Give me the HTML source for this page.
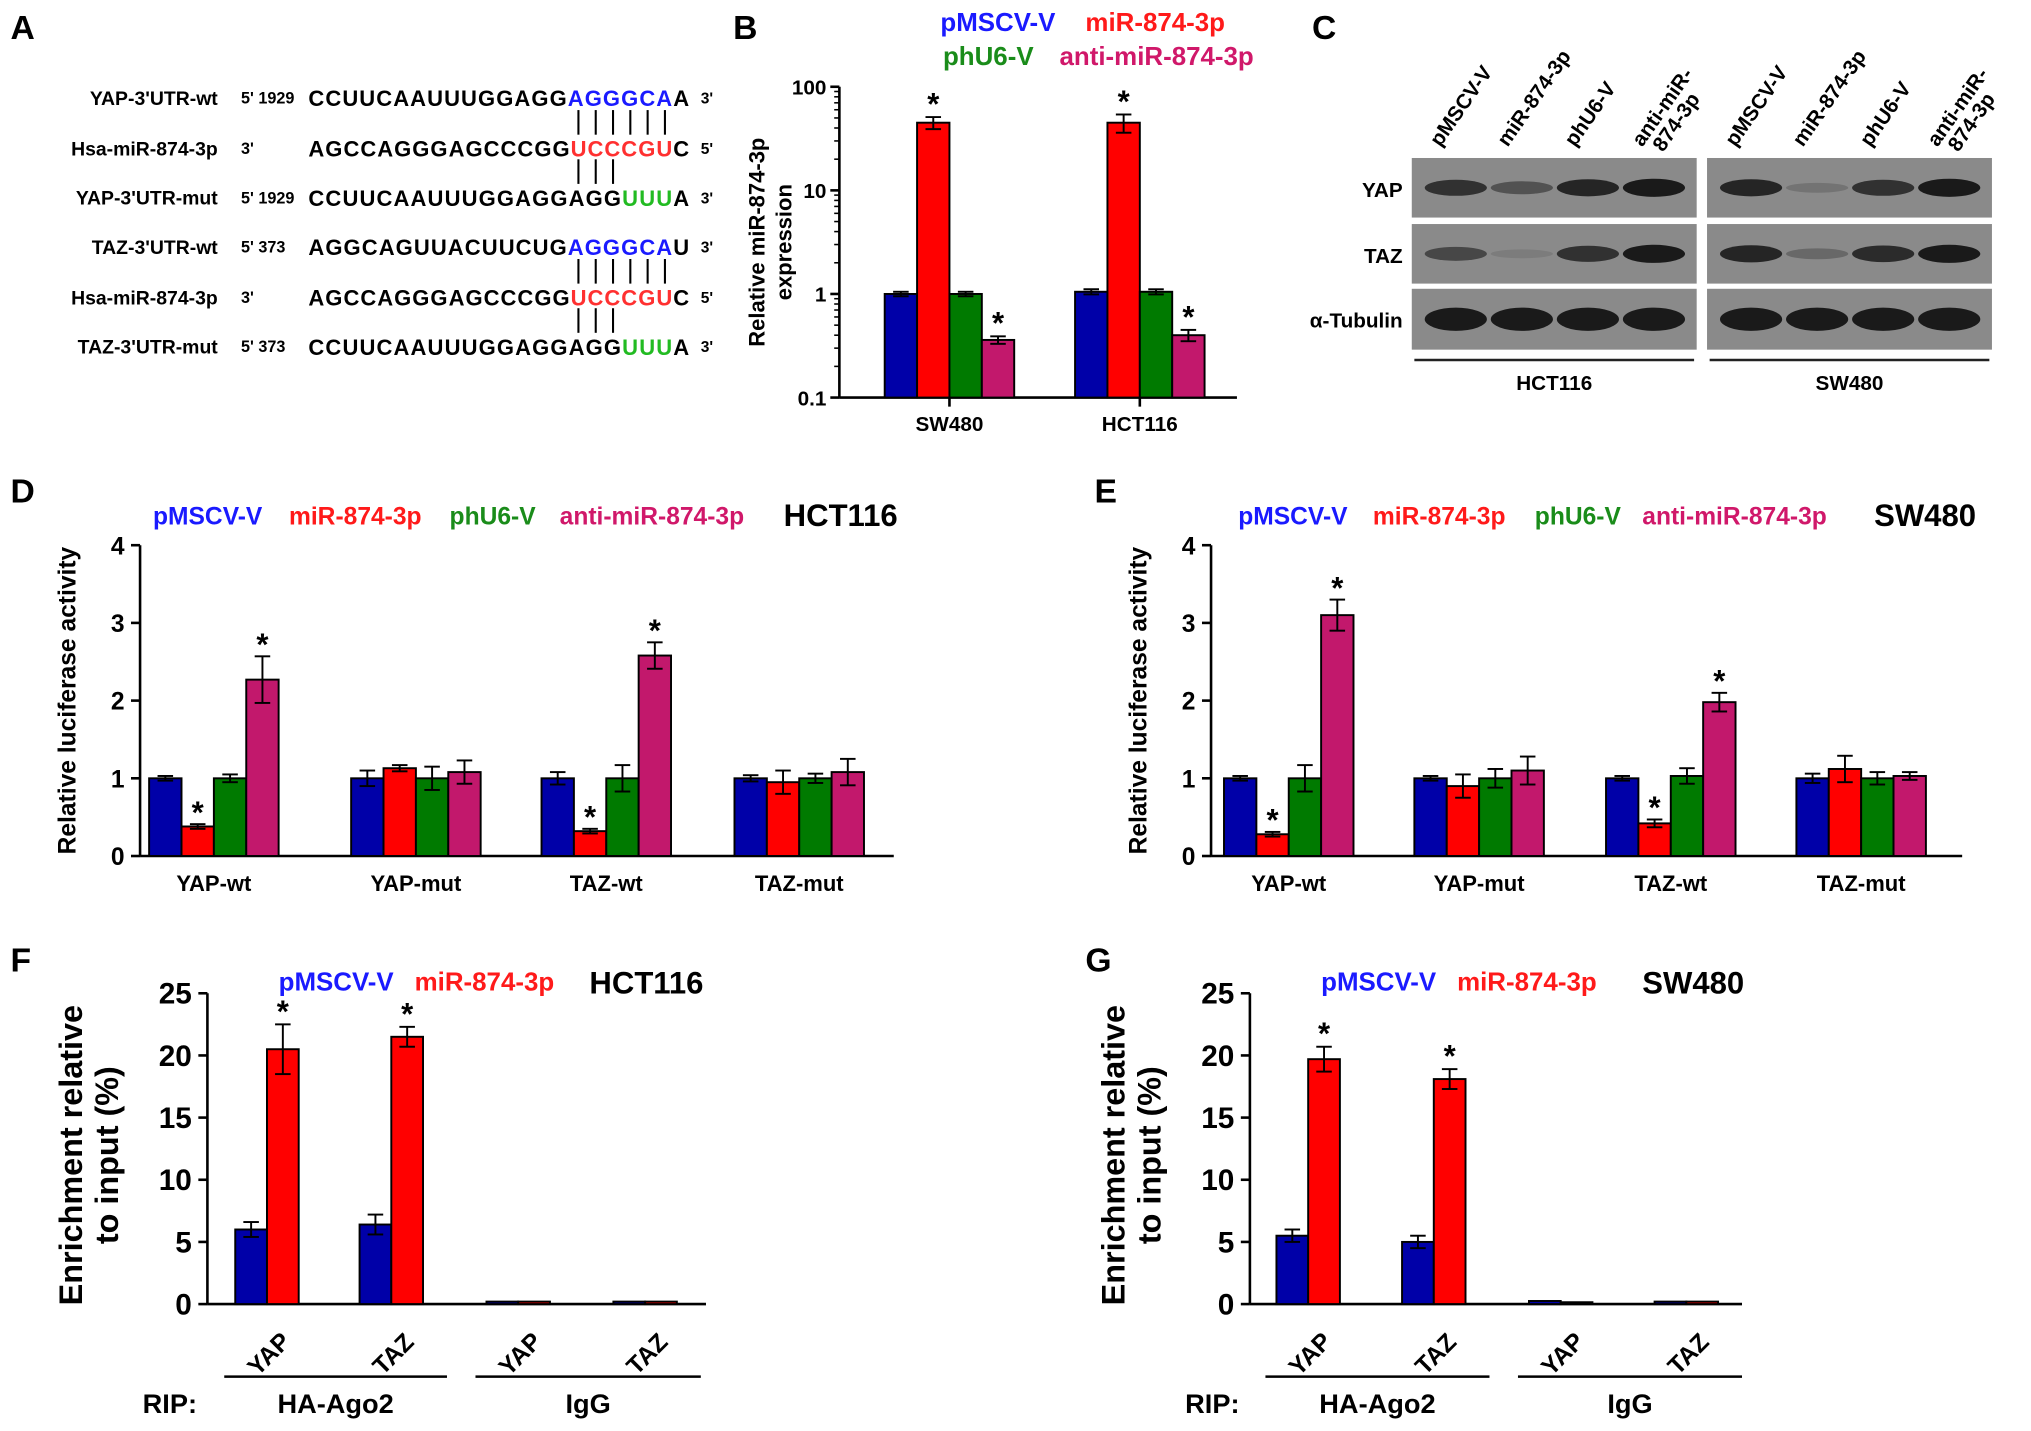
<!DOCTYPE html>
<html><head><meta charset="utf-8"><style>
html,body{margin:0;padding:0;background:#fff}
svg{display:block;font-family:"Liberation Sans",Arial,sans-serif;font-weight:bold}
</style></head><body>
<svg id="fig" width="2031" height="1431" viewBox="0 0 1568 1105" xmlns="http://www.w3.org/2000/svg">
<g id="root"></g>
</svg>
<script>
// ---- Data ----
const groupsB = ["SW480","HCT116"];
const bPMSCV = [1.0, 1.05];
const bMiR = [45, 45];
const bPhU6 = [1.0, 1.05];
const bAnti = [0.36, 0.40];
const bErr = [[0.05,6,0.05,0.03],[0.06,9,0.06,0.05]];
const bTicks = [100,10,1,0.1];
const bTickLabels = ["100","10","1","0.1"];

const groupsDE = ["YAP-wt","YAP-mut","TAZ-wt","TAZ-mut"];
const dPMSCV = [1.0,1.0,1.0,1.0];
const dMiR = [0.38,1.13,0.32,0.95];
const dPhU6 = [1.0,1.0,1.0,1.0];
const dAnti = [2.27,1.08,2.58,1.08];
const dErr = [[0.03,0.03,0.05,0.3],[0.1,0.04,0.15,0.15],[0.08,0.03,0.17,0.17],[0.04,0.15,0.06,0.17]];
const dStar = [[0,1,0,1],[0,0,0,0],[0,1,0,1],[0,0,0,0]];
const ePMSCV = [1.0,1.0,1.0,1.0];
const eMiR = [0.28,0.9,0.42,1.12];
const ePhU6 = [1.0,1.0,1.03,1.0];
const eAnti = [3.1,1.1,1.98,1.03];
const eErr = [[0.03,0.03,0.17,0.2],[0.03,0.15,0.12,0.18],[0.03,0.05,0.1,0.12],[0.06,0.17,0.08,0.05]];
const eStar = [[0,1,0,1],[0,0,0,0],[0,1,0,1],[0,0,0,0]];
const deTicks = [0,1,2,3,4];

const groupsFG = ["YAP","TAZ","YAP","TAZ"];
const fPMSCV = [6.0,6.4,0.2,0.2];
const fMiR = [20.5,21.5,0.2,0.2];
const fErr = [[0.6,2.0],[0.8,0.8],[0,0],[0,0]];
const gPMSCV = [5.5,5.0,0.25,0.2];
const gMiR = [19.7,18.1,0.15,0.2];
const gErr = [[0.5,1.0],[0.5,0.8],[0,0],[0,0]];
const fgTicks = [0,5,10,15,20,25];

const C = {blue:"#0000a8",red:"#ff0000",green:"#007a00",mag:"#c2186c"};
const T = {blue:"#1a1aff",red:"#ff1a1a",green:"#1a8c1a",mag:"#d0186a"};

const NS="http://www.w3.org/2000/svg";
const root=document.getElementById('root');
function el(tag,attrs,parent,text){const e=document.createElementNS(NS,tag);for(const k in attrs)e.setAttribute(k,attrs[k]);if(text!==undefined)e.textContent=text;(parent||root).appendChild(e);return e;}
function txt(x,y,s,size,fill,anchor,parent,name,extra){const t=el('text',Object.assign({x:x,y:y,'font-size':size,fill:fill||'#000','text-anchor':anchor||'start'},extra||{}),parent,s);

return t;}

// Panel labels
[["A",8,30],["B",566,30],["C",1013,30],["D",8,388],["E",845,388],["F",8,750],["G",838,750]].forEach(p=>{txt(p[1],p[2],p[0],26,'#000','start',root,'panel-label-'+p[0].toLowerCase());});

// ---- Panel A ----
const gA=el('g',{});
const rowsA=[
 ["YAP-3'UTR-wt","5' 1929",[["CCUUCAAUUUGGAGG","#000"],["AGGGCA","#1a1aff"],["A","#000"]],"3'",76],
 ["Hsa-miR-874-3p","3'",[["AGCCAGGGAGCCCGG","#000"],["UCCCGU","#ff3030"],["C","#000"]],"5'",115],
 ["YAP-3'UTR-mut","5' 1929",[["CCUUCAAUUUGGAGG","#000"],["AGG","#000"],["UUU","#22bb22"],["A","#000"]],"3'",153],
 ["TAZ-3'UTR-wt","5' 373",[["AGGCAGUUACUUCUG","#000"],["AGGGCA","#1a1aff"],["U","#000"]],"3'",191],
 ["Hsa-miR-874-3p","3'",[["AGCCAGGGAGCCCGG","#000"],["UCCCGU","#ff3030"],["C","#000"]],"5'",230],
 ["TAZ-3'UTR-mut","5' 373",[["CCUUCAAUUUGGAGG","#000"],["AGG","#000"],["UUU","#22bb22"],["A","#000"]],"3'",268]];
rowsA.forEach((r,i)=>{
 txt(168,r[4]+5,r[0],15,'#000','end',gA,'seq-name');
 txt(186,r[4]+4,r[1],12.5,'#000','start',gA,'seq-pos');
 const t=el('text',{x:238,y:r[4]+6,'font-size':17,textLength:294,lengthAdjust:'spacing'},gA);
 
 r[2].forEach(s=>{el('tspan',{fill:s[1]},t,s[0]);});
 txt(541,r[4]+4,r[3],12,'#000','start',gA,'seq-end');
});
const pairX=[0,1,2,3,4,5].map(k=>446.5+k*13.36);
[[6,95],[3,133],[6,210],[3,248]].forEach(p=>{for(let k=0;k<p[0];k++){const x=pairX[k];el('line',{x1:x,x2:x,y1:p[1]-10,y2:p[1]+9,stroke:'#000','stroke-width':1.6},gA);}});

// ---- helpers ----
function errBar(g,x,y0,y1,hw){el('line',{x1:x,x2:x,y1:y0,y2:y1,stroke:'#000','stroke-width':1.5},g);el('line',{x1:x-hw,x2:x+hw,y1:y0,y2:y0,stroke:'#000','stroke-width':1.5},g);el('line',{x1:x-hw,x2:x+hw,y1:y1,y2:y1,stroke:'#000','stroke-width':1.5},g);}
function star(g,x,y,size){txt(x,y+(size||22)*0.75,'*',size||22,'#000','middle',g,'significance-star');}
function legend(g,items,y,size){items.forEach(it=>txt(it[0],y,it[1],size||19,it[2],'start',g,'legend-entry'));}

// ---- Panel B (log) ----
(function(){
 const g=el('g',{});
 const ax=648,top=67,bot=307;
 const y=v=>bot-(Math.log10(v)+1)/3*(bot-top);
 el('line',{x1:ax,x2:ax,y1:top,y2:bot,stroke:'#000','stroke-width':2},g);
 el('line',{x1:ax,x2:955,y1:bot,y2:bot,stroke:'#000','stroke-width':2},g);
 bTicks.forEach((t,i)=>{el('line',{x1:ax-7,x2:ax,y1:y(t),y2:y(t),stroke:'#000','stroke-width':2},g);txt(ax-10,y(t)+6,bTickLabels[i],16,'#000','end',g,'y-tick-label');
  if(i<3){for(let m=2;m<10;m++){const yy=y(t/10*m);el('line',{x1:ax-4,x2:ax,y1:yy,y2:yy,stroke:'#000','stroke-width':1.2},g);}}});
 const series=[bPMSCV,bMiR,bPhU6,bAnti],cols=[C.blue,C.red,C.green,C.mag];
 const starsB=[0,1,0,1];
 const centers=[733,880],bw=25;
 groupsB.forEach((gn,gi)=>{
  el('line',{x1:centers[gi],x2:centers[gi],y1:bot,y2:bot+7,stroke:'#000','stroke-width':2},g);
  series.forEach((s,si)=>{const x0=centers[gi]-2*bw+si*bw,yv=y(s[gi]);
   const r=el('rect',{x:x0,y:yv,width:bw,height:bot-yv,fill:cols[si],stroke:'#000','stroke-width':1.5},g);
   
   const e=bErr[gi][si];errBar(g,x0+bw/2,y(s[gi]+e),y(Math.max(s[gi]-e,0.11)),6);
   if(starsB[si])star(g,x0+bw/2,y(s[gi]+e)-20,24);});
  txt(centers[gi],333,gn,16,'#000','middle',g,'x-tick-label');});
 txt(590,187,'Relative miR-874-3p',17,'#000','middle',g,'y-axis-title',{transform:'rotate(-90 590 187)'});
 txt(611,187,'expression',17,'#000','middle',g,'y-axis-title',{transform:'rotate(-90 611 187)'});
 legend(g,[[726,'pMSCV-V',T.blue],[838,'miR-874-3p',T.red]],24,20);
 legend(g,[[728,'phU6-V',T.green],[818,'anti-miR-874-3p',T.mag]],50,20);
})();

// ---- Panel C (western blot) ----
(function(){
 const g=el('g',{});
 const boxes=[1090,1318],bwid=220,rows=[[122,46],[173,46],[223,47]];
 const lanes=["pMSCV-V","miR-874-3p","phU6-V","anti-miR-874-3p"];
 const intens=[[[0.8,0.5,0.9,1.0],[0.6,0.1,0.8,1.0],[1,1,1,1]],[[0.9,0.2,0.8,1.0],[0.9,0.3,0.85,1.0],[1,1,1,1]]];
 boxes.forEach((bx,bi)=>{
  rows.forEach((r,ri)=>{el('rect',{x:bx,y:r[0],width:bwid,height:r[1],fill:'#8a8a8a'},g);
   for(let l=0;l<4;l++){const cx=bx+34+l*51,a=intens[bi][ri][l];
    const ry=ri===2?9:(3+4*a);
    el('ellipse',{cx:cx,cy:r[0]+r[1]/2,rx:24,ry:ry,fill:'#1a1a1a','fill-opacity':Math.max(0.12,a)},g);}});
  lanes.forEach((ln,l)=>{const lx=bx+22+l*52;
   if(ln.startsWith('anti')){txt(lx,114,'anti-miR-',16,'#000','start',g,'lane-label',{transform:`rotate(-55 ${lx} 114)`});txt(lx+16,118,'874-3p',16,'#000','start',g,'lane-label',{transform:`rotate(-55 ${lx+16} 118)`});}
   else txt(lx,114,ln,16,'#000','start',g,'lane-label',{transform:`rotate(-55 ${lx} 114)`});});
  el('line',{x1:bx+2,x2:bx+bwid-2,y1:278,y2:278,stroke:'#222','stroke-width':2},g);
 });
 txt(1083,152,'YAP',16,'#000','end',g,'row-label');txt(1083,203,'TAZ',16,'#000','end',g,'row-label');txt(1083,253,'α-Tubulin',16,'#000','end',g,'row-label');
 txt(1200,301,'HCT116',16,'#000','middle',g,'cell-line-label');txt(1428,301,'SW480',16,'#000','middle',g,'cell-line-label');
})();

// ---- Panels D/E ----
function panelDE(name,ax,xEnd,centers,data,errs,stars,leg,cell){
 const g=el('g',{});
 const bot=661,top=421,y=v=>bot-v/4*(bot-top);
 el('line',{x1:ax,x2:ax,y1:top,y2:bot,stroke:'#000','stroke-width':2},g);
 el('line',{x1:ax,x2:xEnd,y1:bot,y2:bot,stroke:'#000','stroke-width':2},g);
 deTicks.forEach(t=>{el('line',{x1:ax-7,x2:ax,y1:y(t),y2:y(t),stroke:'#000','stroke-width':2},g);txt(ax-12,y(t)+7,String(t),19,'#000','end',g,'y-tick-label');});
 const cols=[C.blue,C.red,C.green,C.mag],bw=25;
 groupsDE.forEach((gn,gi)=>{
  data.forEach((s,si)=>{const x0=centers[gi]-2*bw+si*bw,yv=y(s[gi]);
   const r=el('rect',{x:x0,y:yv,width:bw,height:bot-yv,fill:cols[si],stroke:'#000','stroke-width':1.5},g);
   
   const e=errs[gi][si];errBar(g,x0+bw/2,y(s[gi]+e),y(s[gi]-e),6);
   if(stars[gi][si])star(g,x0+bw/2,y(s[gi]+e)-19,24);});
  txt(centers[gi],688,gn,17,'#000','middle',g,'x-tick-label');});
 const ty=(top+bot)/2;
 txt(ax-50,ty,'Relative luciferase activity',19,'#000','middle',g,'y-axis-title',{transform:`rotate(-90 ${ax-50} ${ty})`});
 legend(g,leg,405,19);
 txt(cell[0],406,cell[1],24,'#000','start',g,'cell-line-title');
}
panelDE('panel-d-chart',108,690,[165,321,468,617],[dPMSCV,dMiR,dPhU6,dAnti],dErr,dStar,
 [[118,'pMSCV-V',T.blue],[223,'miR-874-3p',T.red],[347,'phU6-V',T.green],[432,'anti-miR-874-3p',T.mag]],[605,'HCT116']);
panelDE('panel-e-chart',935,1515,[995,1142,1290,1437],[ePMSCV,eMiR,ePhU6,eAnti],eErr,eStar,
 [[956,'pMSCV-V',T.blue],[1060,'miR-874-3p',T.red],[1185,'phU6-V',T.green],[1268,'anti-miR-874-3p',T.mag]],[1447,'SW480']);

// ---- Panels F/G ----
function panelFG(name,ax,xEnd,centers,pm,mi,errs,leg,cell){
 const g=el('g',{});
 const bot=1007,top=767,y=v=>bot-v/25*(bot-top);
 el('line',{x1:ax,x2:ax,y1:top,y2:bot,stroke:'#000','stroke-width':2},g);
 el('line',{x1:ax,x2:xEnd,y1:bot,y2:bot,stroke:'#000','stroke-width':2},g);
 fgTicks.forEach(t=>{el('line',{x1:ax-7,x2:ax,y1:y(t),y2:y(t),stroke:'#000','stroke-width':2},g);txt(ax-12,y(t)+8,String(t),23,'#000','end',g,'y-tick-label');});
 const bw=24.5;
 groupsFG.forEach((gn,gi)=>{
  [pm,mi].forEach((s,si)=>{const x0=centers[gi]-bw+si*bw,yv=y(s[gi]);
   const r=el('rect',{x:x0,y:yv,width:bw,height:bot-yv,fill:si?C.red:C.blue,stroke:'#000','stroke-width':1.5},g);
   
   const e=errs[gi][si];if(e>0){errBar(g,x0+bw/2,y(s[gi]+e),y(s[gi]-e),6);}
   if(si===1&&gi<2)star(g,x0+bw/2,y(s[gi]+e)-20,24);});
  const lx=centers[gi]+6,ly=1050;
  txt(lx,ly,gn,19,'#000','middle',g,'x-tick-label',{transform:`rotate(-45 ${lx} ${ly})`});});
 el('line',{x1:centers[0]-33,x2:centers[1]+43,y1:1063,y2:1063,stroke:'#000','stroke-width':2},g);
 el('line',{x1:centers[2]-33,x2:centers[3]+43,y1:1063,y2:1063,stroke:'#000','stroke-width':2},g);
 txt(ax-50,1091,'RIP:',21,'#000','start',g,'rip-label');
 txt((centers[0]+centers[1])/2+5,1091,'HA-Ago2',21,'#000','middle',g,'group-label');
 txt((centers[2]+centers[3])/2+5,1091,'IgG',21,'#000','middle',g,'group-label');
 const ty=(top+bot)/2+5;
 txt(ax-97,ty,'Enrichment relative',25,'#000','middle',g,'y-axis-title',{transform:`rotate(-90 ${ax-97} ${ty})`});
 txt(ax-69,ty,'to input (%)',25,'#000','middle',g,'y-axis-title',{transform:`rotate(-90 ${ax-69} ${ty})`});
 legend(g,leg,765,20);
 txt(cell[0],767,cell[1],24,'#000','start',g,'cell-line-title');
}
panelFG('panel-f-chart',160,545,[206,302,400,498],fPMSCV,fMiR,fErr,[[215,'pMSCV-V',T.blue],[320,'miR-874-3p',T.red]],[455,'HCT116']);
panelFG('panel-g-chart',965,1345,[1010,1107,1205,1302],gPMSCV,gMiR,gErr,[[1020,'pMSCV-V',T.blue],[1125,'miR-874-3p',T.red]],[1268,'SW480']);
</script>
</body></html>
